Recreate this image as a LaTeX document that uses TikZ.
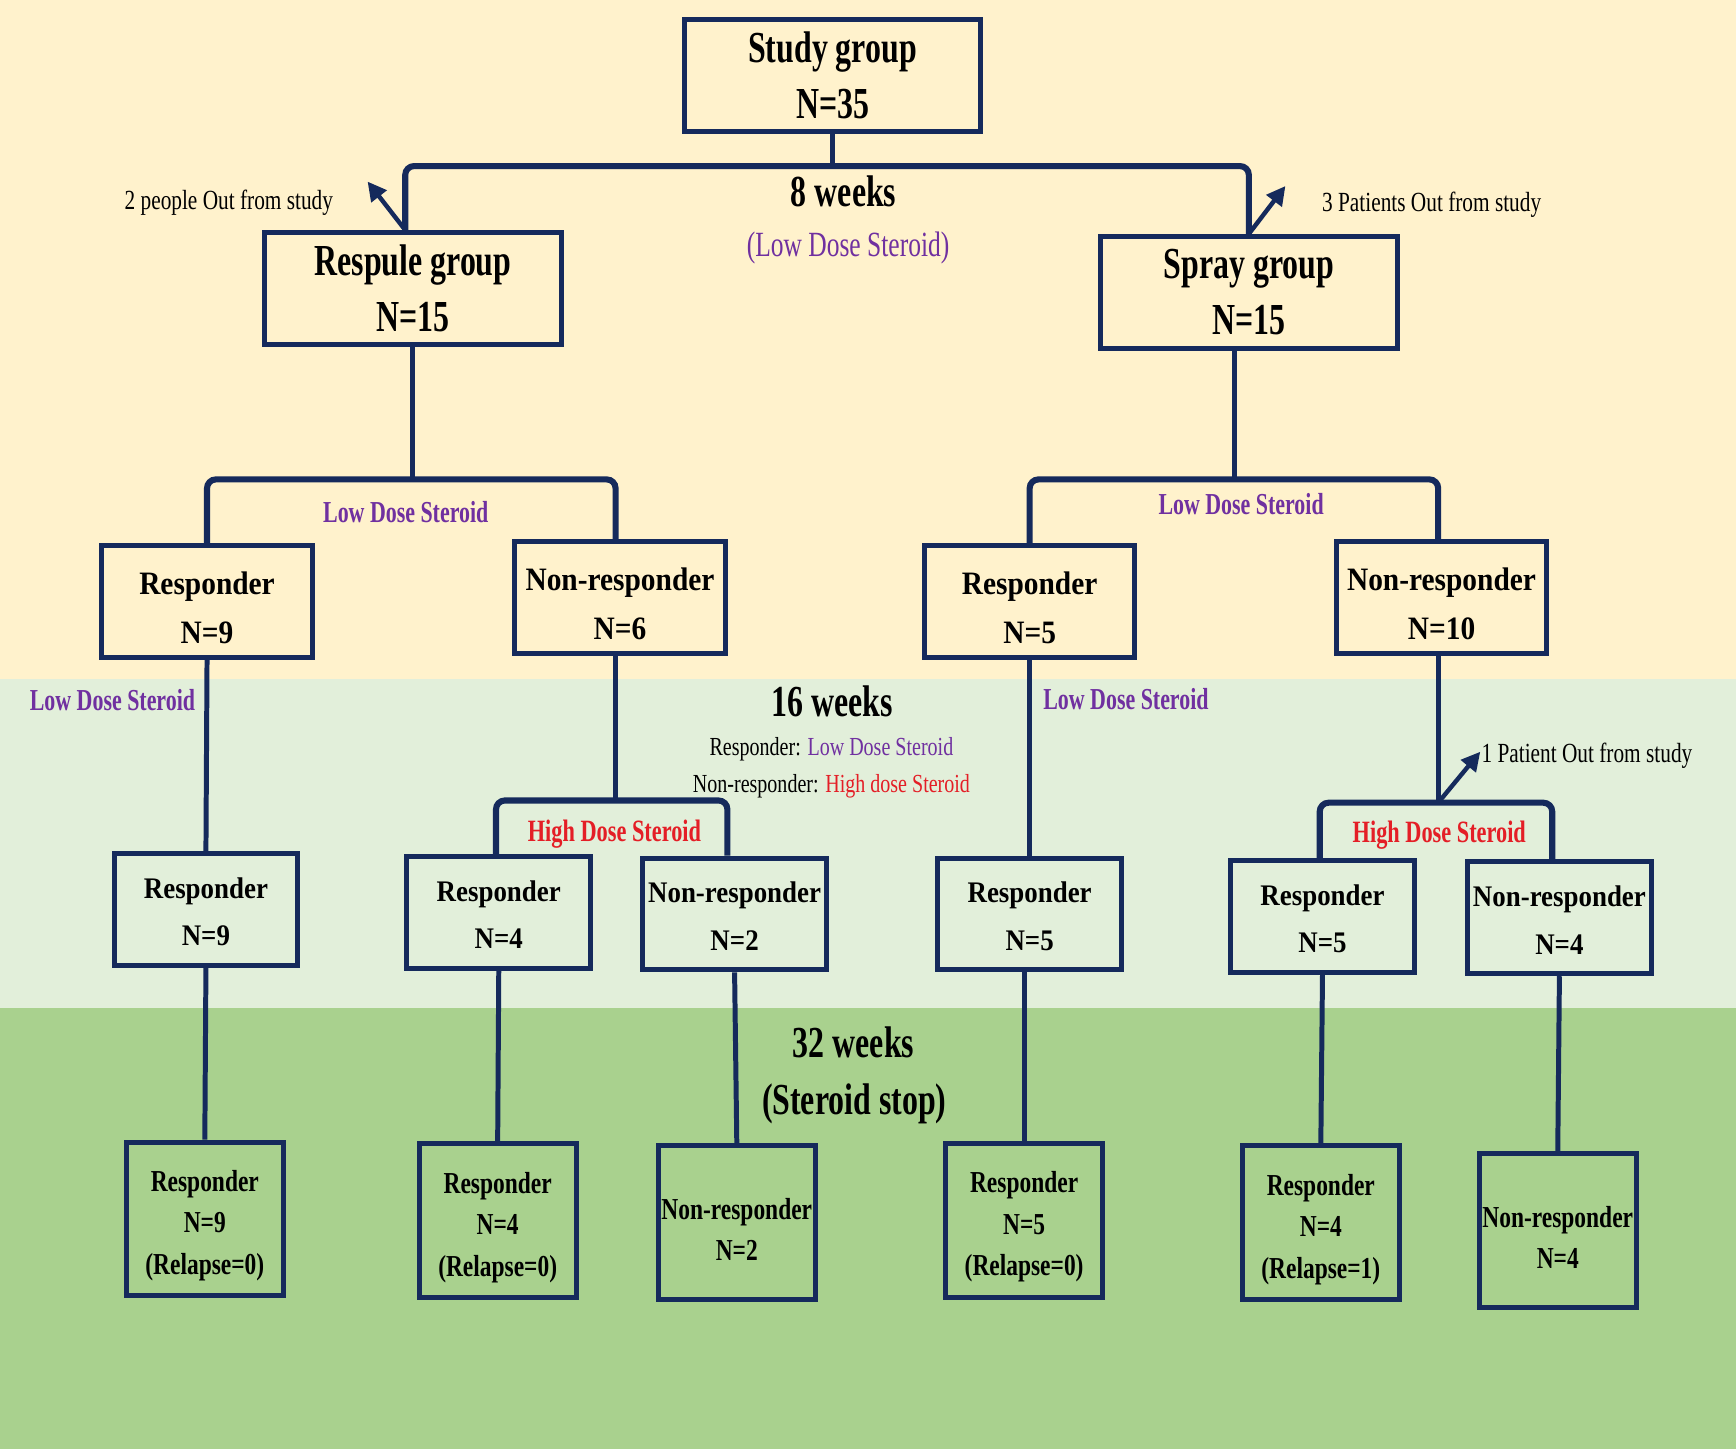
\documentclass[tikz,border=0pt]{standalone}
\usepackage{fontspec}
\setmainfont{Liberation Serif}
\newfontfamily\narrowfont[FakeStretch = 0.72]{Liberation Serif}
\newfontfamily\notefont[FakeStretch = 0.77]{Liberation Serif}
\newfontfamily\boxfont[FakeStretch = 0.9]{Liberation Serif}
\usetikzlibrary{positioning}
\usetikzlibrary{arrows.meta}
\definecolor{lineblue}{HTML}{152A5C}
\definecolor{creamband}{HTML}{FFF2CC}
\definecolor{paleband}{HTML}{E2EFDA}
\definecolor{greenband}{HTML}{A9D18E}
\definecolor{dosepurple}{HTML}{7030A0}
\definecolor{dosered}{HTML}{E41E26}
\tikzset{
	conn/.style = {lineblue, line width = 4.5pt},
	bar/.style = {lineblue, line width = 5.5pt, rounded corners = 8pt},
	outarrow/.style = {lineblue, line width = 4pt, -{Triangle[length = 17pt, width = 17pt]}},
	box/.style = {draw = lineblue, line width = 4.5pt, inner sep = 0pt, align = center, text = black},
	groupbox/.style = {box, minimum width = 268pt, minimum height = 101pt, font = \narrowfont\bfseries\fontsize{40}{51}\selectfont},
	firstbox/.style = {box, minimum width = 190pt, minimum height = 101pt},
	secondbox/.style = {box, minimum width = 166pt, minimum height = 101pt},
	finalbox/.style = {box, minimum width = 142pt, minimum height = 139pt},
	firsttext/.style = {align = center, inner sep = 0pt, yshift = -6pt, font = \boxfont\bfseries\fontsize{29.5}{44.5}\selectfont},
	secondtext/.style = {align = center, inner sep = 0pt, yshift = -2pt, font = \boxfont\bfseries\fontsize{27}{43}\selectfont},
	finaltext/.style = {align = center, inner sep = 0pt, yshift = -6pt, font = \notefont\bfseries\fontsize{27.5}{37.5}\selectfont},
	weektext/.style = {anchor = base, inner sep = 0pt, font = \narrowfont\bfseries\fontsize{40}{48}\selectfont},
	lowdose/.style = {anchor = base, inner sep = 0pt, text = dosepurple, font = \narrowfont\bfseries\fontsize{27.5}{32}\selectfont},
	highdose/.style = {anchor = base, inner sep = 0pt, text = dosered, font = \narrowfont\bfseries\fontsize{28}{32}\selectfont},
	outnote/.style = {inner sep = 0pt, font = \notefont\fontsize{25}{30}\selectfont},
	schedule/.style = {anchor = base, inner sep = 0pt, font = \notefont\fontsize{23.5}{28}\selectfont}
}
\begin{document}
\begin{tikzpicture}[x = 1pt, y = -1pt]
	\useasboundingbox (0, 0) rectangle (1568, 1309);
	\fill[creamband] (0, 0) rectangle (1568, 613);
	\fill[paleband] (0, 613) rectangle (1568, 910);
	\fill[greenband] (0, 910) rectangle (1568, 1309);

	\node[groupbox] (study) at (752, 68) {Study group\\N=35};
	\node[groupbox] (respule) at (373, 260.5) {Respule group\\N=15};
	\node[groupbox] (spray) at (1128, 264) {Spray group\\N=15};

	\node[firstbox, label = {[firsttext]center:Responder\\N=9}] (respA) at (187, 543) {};
	\node[firstbox, label = {[firsttext]center:Non-responder\\N=6}] (nonrespA) at (560, 539.5) {};
	\node[firstbox, label = {[firsttext]center:Responder\\N=5}] (respB) at (930, 543) {};
	\node[firstbox, label = {[firsttext]center:Non-responder\\N=10}] (nonrespB) at (1302, 539.5) {};

	\node[secondbox, label = {[secondtext]center:Responder\\N=9}] (respAA) at (186, 821.5) {};
	\node[secondbox, label = {[secondtext]center:Responder\\N=4}] (respAB) at (450.5, 824) {};
	\node[secondbox, label = {[secondtext]center:Non-responder\\N=2}] (nonrespAB) at (663.5, 825.5) {};
	\node[secondbox, label = {[secondtext]center:Responder\\N=5}] (respBA) at (930, 825.5) {};
	\node[secondbox, label = {[secondtext]center:Responder\\N=5}] (respBB) at (1194.5, 828) {};
	\node[secondbox, label = {[secondtext]center:Non-responder\\N=4}] (nonrespBB) at (1408.5, 829) {};

	\node[finalbox, label = {[finaltext]center:Responder\\N=9\\(Relapse=0)}] (finAA) at (185, 1101) {};
	\node[finalbox, label = {[finaltext]center:Responder\\N=4\\(Relapse=0)}] (finAB) at (449.5, 1102.5) {};
	\node[finalbox, label = {[finaltext]center:Non-responder\\N=2}] (finNAB) at (665.5, 1104.5) {};
	\node[finalbox, label = {[finaltext]center:Responder\\N=5\\(Relapse=0)}] (finBA) at (925, 1102) {};
	\node[finalbox, label = {[finaltext]center:Responder\\N=4\\(Relapse=1)}] (finBB) at (1193, 1104.5) {};
	\node[finalbox, label = {[finaltext]center:Non-responder\\N=4}] (finNBB) at (1407, 1111.5) {};

	\coordinate (split0) at (752, 150);
	\coordinate (split1) at (373, 433);
	\coordinate (split2) at (1115, 433);
	\coordinate (split3) at (556, 723);
	\coordinate (split4) at (1299, 725);
	\coordinate (outA) at (332, 164);
	\coordinate (outB) at (1161, 168);
	\coordinate (outC) at (1337, 679);

	\draw[conn] (study.south) -- (split0);
	\draw[bar] ([xshift = -7pt]respule.north) |- (split0) -| (spray.north);
	\draw[conn] (respule.south) -- (split1);
	\draw[bar] (respA.north) |- (split1) -| ([xshift = -4pt]nonrespA.north);
	\draw[conn] ([xshift = -13pt]spray.south) -- (split2);
	\draw[bar] (respB.north) |- (split2) -| ([xshift = -3pt]nonrespB.north);
	\draw[conn] ([xshift = -4pt]nonrespA.south) -- (split3);
	\draw[bar] ([xshift = -2.5pt]respAB.north) |- (split3) -| ([xshift = -6.5pt]nonrespAB.north);
	\draw[conn] ([xshift = -3pt]nonrespB.south) -- (split4);
	\draw[bar] ([xshift = -2.5pt]respBB.north) |- (split4) -| ([xshift = -6.5pt]nonrespBB.north);
	\draw[conn] (respA.south) -- (respAA.north);
	\draw[conn] (respB.south) -- (respBA.north);
	\draw[conn] (respAA.south) -- (finAA.north);
	\draw[conn] (respAB.south) -- (finAB.north);
	\draw[conn] (nonrespAB.south) -- (finNAB.north);
	\draw[conn] (finBA.north) -- (finBA.north |- respBA.south);
	\draw[conn] (respBB.south) -- (finBB.north);
	\draw[conn] (nonrespBB.south) -- (finNBB.north);

	\draw[outarrow] ([xshift = -7pt]respule.north) -- (outA);
	\draw[outarrow] (spray.north) -- (outB);
	\draw[outarrow] (split4) -- (outC);
	\node[outnote, anchor = base east] (noteA) at (301, 189.5) {2 people Out from study};
	\node[outnote, anchor = base west] (noteB) at (1194, 191) {3 Patients Out from study};
	\node[outnote, anchor = base west] (noteC) at (1338, 689) {1 Patient Out from study};

	\node[weektext] (week8) at (762, 186.7) {8 weeks};
	\node[anchor = base, inner sep = 0pt, text = dosepurple, font = \narrowfont\fontsize{32}{36}\selectfont] (week8dose) at (766, 231.9) {(Low Dose Steroid)};
	\node[lowdose] (doseA) at (366.5, 471.7) {Low Dose Steroid};
	\node[lowdose] (doseB) at (1121, 465) {Low Dose Steroid};
	\node[lowdose] (doseC) at (101.6, 641.4) {Low Dose Steroid};
	\node[lowdose] (doseD) at (1017, 641) {Low Dose Steroid};
	\node[weektext] (week16) at (751.4, 646.8) {16 weeks};
	\node[schedule] (planA) at (751, 682) {Responder: \textcolor{dosepurple}{Low Dose Steroid}};
	\node[schedule] (planB) at (751, 715.5) {Non-responder: \textcolor{dosered}{High dose Steroid}};
	\node[highdose] (doseE) at (555, 759.7) {High Dose Steroid};
	\node[highdose] (doseF) at (1300, 761) {High Dose Steroid};
	\node[weektext] (week32) at (771, 955) {32 weeks};
	\node[weektext] (stop) at (771.6, 1007) {(Steroid stop)};
\end{tikzpicture}
\end{document}
